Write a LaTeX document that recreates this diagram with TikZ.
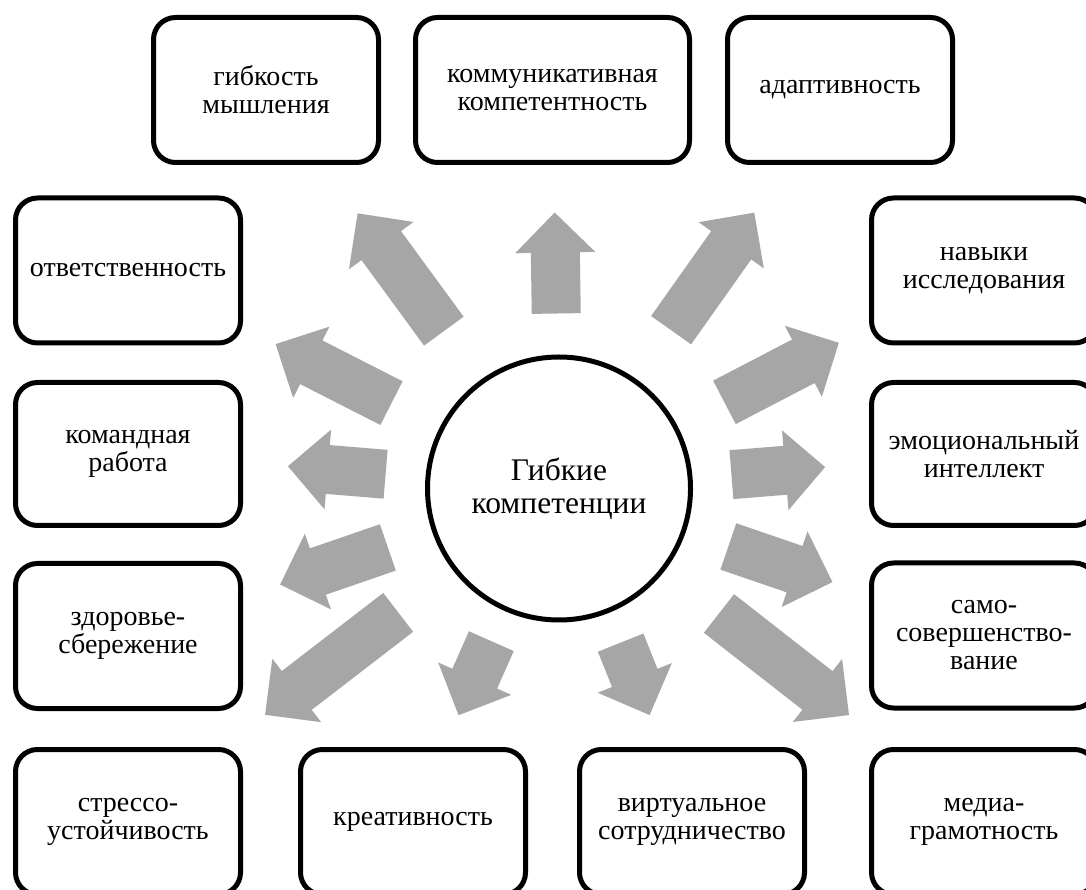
\documentclass[tikz,border=0pt]{standalone}
\usepackage{fontspec}
\setmainfont{Liberation Serif}
\usetikzlibrary{calc}
\definecolor{arrowgray}{HTML}{A6A6A6}
\tikzset{
  box/.style={draw=black, line width=5pt, rounded corners=22pt, fill=white,
    align=center, inner sep=0pt, minimum width=225pt, minimum height=145pt,
    font=\fontsize{28pt}{28pt}\selectfont},
  hub/.style={circle, draw=black, line width=5pt, minimum size=263pt, fill=white,
    align=center, inner sep=0pt, font=\fontsize{31.5pt}{33pt}\selectfont},
  blockarrow/.style={fill=arrowgray, draw=none}
}
\newcommand\barrow[3]{%
  \begin{scope}[shift={(hub.center)}, rotate=#1]
    \fill[blockarrow] (#2,-24.5) -- ({#3-40},-24.5) -- ({#3-40},-40) -- (#3,0)
      -- ({#3-40},40) -- ({#3-40},24.5) -- (#2,24.5) -- cycle;
  \end{scope}}
\begin{document}
\begin{tikzpicture}[x=1pt, y=1pt]
  \useasboundingbox (0,0) rectangle (1086,889);
  \clip (0,0) rectangle (1086,889);
  \fill[white] (0,0) rectangle (1086,889);

  % central node
  \node[hub] (hub) at (559,400.5) {Гибкие\\компетенции};

  % boxes
  \node[box] (b1) at (266,799) {гибкость\\мышления};
  \node[box, minimum width=274pt] (b2) at (552.5,799) {коммуникативная\\компетентность};
  \node[box] (b3) at (840,799) {адаптивность};
  \node[box] (b4) at (128,618.5) {ответственность};
  \node[box] (b5) at (984,618.5) {навыки\\исследования};
  \node[box, minimum height=143pt] (b6) at (128,435) {командная\\работа};
  \node[box, minimum height=143pt] (b7) at (984,435) {эмоциональный\\интеллект};
  \node[box] (b8) at (128,253) {здоровье-\\сбережение};
  \node[box] (b9) at (984,253.5) {само-\\совершенство-\\вание};
  \node[box] (b10) at (128,67) {стрессо-\\устойчивость};
  \node[box] (b11) at (413,67) {креативность};
  \node[box] (b12) at (692,67) {виртуальное\\сотрудничество};
  \node[box] (b13) at (984,67) {медиа-\\грамотность};

  % block arrows from the hub towards the boxes
  \barrow{90.9}{175}{276}
  \barrow{126.2}{195}{341}
  \barrow{54.7}{194}{338}
  \barrow{153}{188}{318}
  \barrow{27.5}{186.5}{315.5}
  \barrow{175.3}{174}{272}
  \barrow{4.6}{173}{267}
  \barrow{199}{181}{295}
  \barrow{-18.9}{179}{289}
  \barrow{217.6}{203}{371}
  \barrow{-38}{203}{368}
  \barrow{246.1}{167}{248}
  \barrow{-68.2}{166}{244}
\end{tikzpicture}
\end{document}
